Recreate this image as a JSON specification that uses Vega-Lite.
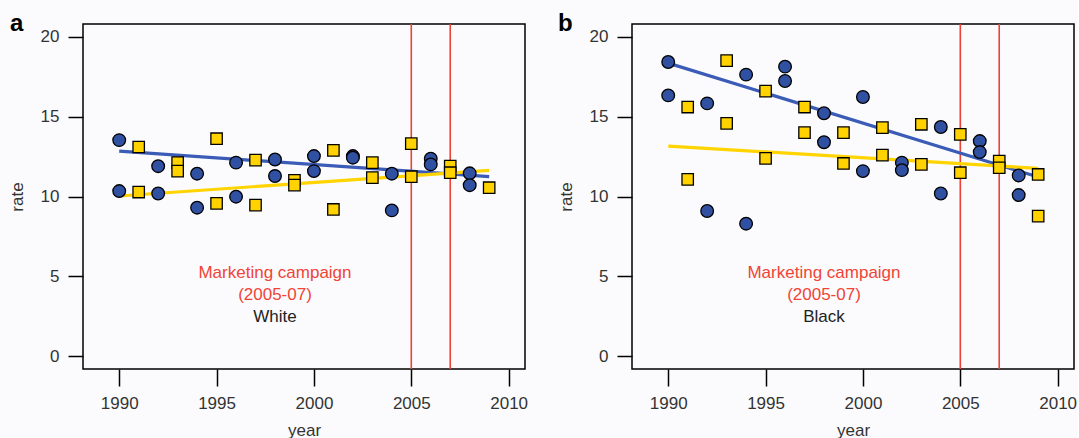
{
  "$schema": "https://vega.github.io/schema/vega-lite/v6.json",
  "background": "#fbfbfd",
  "padding": {"left": 7, "top": 11, "right": 0, "bottom": 0},
  "spacing": 107,
  "bounds": "flush",
  "config": {
    "font": "Liberation Sans",
    "view": {"stroke": "black", "strokeWidth": 1.5},
    "axis": {
      "grid": false,
      "domain": false,
      "tickColor": "black",
      "tickWidth": 1.5,
      "labelFontSize": 17,
      "labelColor": "#333333",
      "titleFontSize": 17,
      "titleFontWeight": "normal",
      "titleColor": "#333333",
      "labelFlush": false,
      "labelOverlap": false
    },
    "axisX": {"tickSize": 17, "labelPadding": 9, "titlePadding": 11},
    "axisY": {"tickSize": 15, "labelPadding": 9, "titlePadding": 14},
    "title": {"fontSize": 24, "fontWeight": "bold", "color": "black", "anchor": "start", "frame": "group", "offset": 0, "baseline": "alphabetic"}
  },
  "datasets": {
    "pts": [
      {"panel": "a", "group": "circle", "year": 1990, "rate": 13.53},
      {"panel": "a", "group": "circle", "year": 1990, "rate": 10.34},
      {"panel": "a", "group": "circle", "year": 1992, "rate": 11.9},
      {"panel": "a", "group": "circle", "year": 1992, "rate": 10.19},
      {"panel": "a", "group": "circle", "year": 1994, "rate": 11.43},
      {"panel": "a", "group": "circle", "year": 1994, "rate": 9.3},
      {"panel": "a", "group": "circle", "year": 1996, "rate": 12.12},
      {"panel": "a", "group": "circle", "year": 1996, "rate": 9.99},
      {"panel": "a", "group": "circle", "year": 1998, "rate": 12.32},
      {"panel": "a", "group": "circle", "year": 1998, "rate": 11.28},
      {"panel": "a", "group": "circle", "year": 2000, "rate": 12.53},
      {"panel": "a", "group": "circle", "year": 2000, "rate": 11.59},
      {"panel": "a", "group": "circle", "year": 2002, "rate": 12.53},
      {"panel": "a", "group": "circle", "year": 2002, "rate": 12.43},
      {"panel": "a", "group": "circle", "year": 2004, "rate": 11.43},
      {"panel": "a", "group": "circle", "year": 2004, "rate": 9.13},
      {"panel": "a", "group": "circle", "year": 2006, "rate": 12.37},
      {"panel": "a", "group": "circle", "year": 2006, "rate": 12.01},
      {"panel": "a", "group": "circle", "year": 2008, "rate": 11.45},
      {"panel": "a", "group": "circle", "year": 2008, "rate": 10.71},
      {"panel": "a", "group": "square", "year": 1991, "rate": 13.1},
      {"panel": "a", "group": "square", "year": 1991, "rate": 10.28},
      {"panel": "a", "group": "square", "year": 1993, "rate": 12.12},
      {"panel": "a", "group": "square", "year": 1993, "rate": 11.59},
      {"panel": "a", "group": "square", "year": 1995, "rate": 13.62},
      {"panel": "a", "group": "square", "year": 1995, "rate": 9.57},
      {"panel": "a", "group": "square", "year": 1997, "rate": 12.28},
      {"panel": "a", "group": "square", "year": 1997, "rate": 9.46},
      {"panel": "a", "group": "square", "year": 1999, "rate": 11.01},
      {"panel": "a", "group": "square", "year": 1999, "rate": 10.71},
      {"panel": "a", "group": "square", "year": 2001, "rate": 12.89},
      {"panel": "a", "group": "square", "year": 2001, "rate": 9.19},
      {"panel": "a", "group": "square", "year": 2003, "rate": 12.12},
      {"panel": "a", "group": "square", "year": 2003, "rate": 11.18},
      {"panel": "a", "group": "square", "year": 2005, "rate": 13.31},
      {"panel": "a", "group": "square", "year": 2005, "rate": 11.24},
      {"panel": "a", "group": "square", "year": 2007, "rate": 11.9},
      {"panel": "a", "group": "square", "year": 2007, "rate": 11.49},
      {"panel": "a", "group": "square", "year": 2009, "rate": 10.55},
      {"panel": "b", "group": "circle", "year": 1990, "rate": 18.42},
      {"panel": "b", "group": "circle", "year": 1990, "rate": 16.33},
      {"panel": "b", "group": "circle", "year": 1992, "rate": 15.83},
      {"panel": "b", "group": "circle", "year": 1992, "rate": 9.09},
      {"panel": "b", "group": "circle", "year": 1994, "rate": 17.63},
      {"panel": "b", "group": "circle", "year": 1994, "rate": 8.3},
      {"panel": "b", "group": "circle", "year": 1996, "rate": 18.13},
      {"panel": "b", "group": "circle", "year": 1996, "rate": 17.23},
      {"panel": "b", "group": "circle", "year": 1998, "rate": 15.21},
      {"panel": "b", "group": "circle", "year": 1998, "rate": 13.4},
      {"panel": "b", "group": "circle", "year": 2000, "rate": 16.23},
      {"panel": "b", "group": "circle", "year": 2000, "rate": 11.59},
      {"panel": "b", "group": "circle", "year": 2002, "rate": 12.12},
      {"panel": "b", "group": "circle", "year": 2002, "rate": 11.65},
      {"panel": "b", "group": "circle", "year": 2004, "rate": 14.35},
      {"panel": "b", "group": "circle", "year": 2004, "rate": 10.19},
      {"panel": "b", "group": "circle", "year": 2006, "rate": 13.47},
      {"panel": "b", "group": "circle", "year": 2006, "rate": 12.78},
      {"panel": "b", "group": "circle", "year": 2008, "rate": 11.32},
      {"panel": "b", "group": "circle", "year": 2008, "rate": 10.09},
      {"panel": "b", "group": "square", "year": 1991, "rate": 15.6},
      {"panel": "b", "group": "square", "year": 1991, "rate": 11.07},
      {"panel": "b", "group": "square", "year": 1993, "rate": 18.51},
      {"panel": "b", "group": "square", "year": 1993, "rate": 14.58},
      {"panel": "b", "group": "square", "year": 1995, "rate": 16.6},
      {"panel": "b", "group": "square", "year": 1995, "rate": 12.39},
      {"panel": "b", "group": "square", "year": 1997, "rate": 15.6},
      {"panel": "b", "group": "square", "year": 1997, "rate": 14.0},
      {"panel": "b", "group": "square", "year": 1999, "rate": 14.0},
      {"panel": "b", "group": "square", "year": 1999, "rate": 12.07},
      {"panel": "b", "group": "square", "year": 2001, "rate": 14.31},
      {"panel": "b", "group": "square", "year": 2001, "rate": 12.59},
      {"panel": "b", "group": "square", "year": 2003, "rate": 14.52},
      {"panel": "b", "group": "square", "year": 2003, "rate": 12.01},
      {"panel": "b", "group": "square", "year": 2005, "rate": 13.89},
      {"panel": "b", "group": "square", "year": 2005, "rate": 11.49},
      {"panel": "b", "group": "square", "year": 2007, "rate": 12.22},
      {"panel": "b", "group": "square", "year": 2007, "rate": 11.8},
      {"panel": "b", "group": "square", "year": 2009, "rate": 11.38},
      {"panel": "b", "group": "square", "year": 2009, "rate": 8.77}
    ],
    "fits": [
      {"panel": "a", "group": "circle", "year": 1990, "rate": 12.84},
      {"panel": "a", "group": "circle", "year": 2009, "rate": 11.24},
      {"panel": "a", "group": "square", "year": 1990, "rate": 10.03},
      {"panel": "a", "group": "square", "year": 2009, "rate": 11.64},
      {"panel": "b", "group": "circle", "year": 1990, "rate": 18.35},
      {"panel": "b", "group": "circle", "year": 2009, "rate": 11.22},
      {"panel": "b", "group": "square", "year": 1990, "rate": 13.16},
      {"panel": "b", "group": "square", "year": 2009, "rate": 11.76}
    ],
    "campaign": [
      {"panel": "a", "year": 2005},
      {"panel": "a", "year": 2007},
      {"panel": "b", "year": 2005},
      {"panel": "b", "year": 2007}
    ],
    "notes": [
      {"panel": "a", "kind": "campaign", "year": 1998, "rate": 4.87, "label": "Marketing campaign"},
      {"panel": "a", "kind": "campaign", "year": 1998, "rate": 3.52, "label": "(2005-07)"},
      {"panel": "a", "kind": "race", "year": 1998, "rate": 2.17, "label": "White"},
      {"panel": "b", "kind": "campaign", "year": 1998, "rate": 4.87, "label": "Marketing campaign"},
      {"panel": "b", "kind": "campaign", "year": 1998, "rate": 3.52, "label": "(2005-07)"},
      {"panel": "b", "kind": "race", "year": 1998, "rate": 2.17, "label": "Black"}
    ]
  },
  "hconcat": [
    {
      "width": 442,
      "height": 345,
      "title": {"text": "a", "dx": -73, "dy": 17},
      "layer": [
        {
          "data": {"name": "campaign"},
          "transform": [{"filter": "datum.panel == 'a'"}],
          "mark": {"type": "rule", "color": "#EE4035", "strokeWidth": 1.6},
          "encoding": {
            "x": {"field": "year", "type": "quantitative", "scale": {"domain": [1988.14, 2010.84], "nice": false, "zero": false},
              "axis": {"values": [1990, 1995, 2000, 2005, 2010], "format": "d", "title": "year"}}
          }
        },
        {
          "data": {"name": "fits"},
          "transform": [{"filter": "datum.panel == 'a'"}],
          "mark": {"type": "line", "strokeWidth": 3.2},
          "encoding": {
            "x": {"field": "year", "type": "quantitative"},
            "y": {"field": "rate", "type": "quantitative"},
            "stroke": {"field": "group", "type": "nominal", "scale": {"domain": ["circle", "square"], "range": ["#3A5BB6", "#FFD400"]}, "legend": null}
          }
        },
        {
          "data": {"name": "pts"},
          "transform": [{"filter": "datum.panel == 'a'"}],
          "mark": {"type": "point", "filled": true, "stroke": "black", "strokeWidth": 1.3, "opacity": 1},
          "encoding": {
            "x": {"field": "year", "type": "quantitative"},
            "y": {"field": "rate", "type": "quantitative", "scale": {"domain": [-0.8, 20.8], "nice": false, "zero": false},
              "axis": {"values": [0, 5, 10, 15, 20], "title": "rate"}},
            "shape": {"field": "group", "type": "nominal", "scale": {"domain": ["circle", "square"], "range": ["circle", "square"]}, "legend": null},
            "size": {"field": "group", "type": "nominal", "scale": {"domain": ["circle", "square"], "range": [160, 130]}, "legend": null},
            "fill": {"field": "group", "type": "nominal", "scale": {"domain": ["circle", "square"], "range": ["#3050A2", "#FFD200"]}, "legend": null}
          }
        },
        {
          "data": {"name": "notes"},
          "transform": [{"filter": "datum.panel == 'a'"}],
          "mark": {"type": "text", "fontSize": 17, "align": "center", "baseline": "alphabetic"},
          "encoding": {
            "x": {"field": "year", "type": "quantitative"},
            "y": {"field": "rate", "type": "quantitative"},
            "text": {"field": "label"},
            "color": {"field": "kind", "type": "nominal", "scale": {"domain": ["campaign", "race"], "range": ["#F04436", "#222222"]}, "legend": null}
          }
        }
      ]
    },
    {
      "width": 442,
      "height": 345,
      "title": {"text": "b", "dx": -74, "dy": 17},
      "layer": [
        {
          "data": {"name": "campaign"},
          "transform": [{"filter": "datum.panel == 'b'"}],
          "mark": {"type": "rule", "color": "#EE4035", "strokeWidth": 1.6},
          "encoding": {
            "x": {"field": "year", "type": "quantitative", "scale": {"domain": [1988.14, 2010.84], "nice": false, "zero": false},
              "axis": {"values": [1990, 1995, 2000, 2005, 2010], "format": "d", "title": "year"}}
          }
        },
        {
          "data": {"name": "fits"},
          "transform": [{"filter": "datum.panel == 'b'"}],
          "mark": {"type": "line", "strokeWidth": 3.2},
          "encoding": {
            "x": {"field": "year", "type": "quantitative"},
            "y": {"field": "rate", "type": "quantitative"},
            "stroke": {"field": "group", "type": "nominal", "scale": {"domain": ["circle", "square"], "range": ["#3A5BB6", "#FFD400"]}, "legend": null}
          }
        },
        {
          "data": {"name": "pts"},
          "transform": [{"filter": "datum.panel == 'b'"}],
          "mark": {"type": "point", "filled": true, "stroke": "black", "strokeWidth": 1.3, "opacity": 1},
          "encoding": {
            "x": {"field": "year", "type": "quantitative"},
            "y": {"field": "rate", "type": "quantitative", "scale": {"domain": [-0.8, 20.8], "nice": false, "zero": false},
              "axis": {"values": [0, 5, 10, 15, 20], "title": "rate"}},
            "shape": {"field": "group", "type": "nominal", "scale": {"domain": ["circle", "square"], "range": ["circle", "square"]}, "legend": null},
            "size": {"field": "group", "type": "nominal", "scale": {"domain": ["circle", "square"], "range": [160, 130]}, "legend": null},
            "fill": {"field": "group", "type": "nominal", "scale": {"domain": ["circle", "square"], "range": ["#3050A2", "#FFD200"]}, "legend": null}
          }
        },
        {
          "data": {"name": "notes"},
          "transform": [{"filter": "datum.panel == 'b'"}],
          "mark": {"type": "text", "fontSize": 17, "align": "center", "baseline": "alphabetic"},
          "encoding": {
            "x": {"field": "year", "type": "quantitative"},
            "y": {"field": "rate", "type": "quantitative"},
            "text": {"field": "label"},
            "color": {"field": "kind", "type": "nominal", "scale": {"domain": ["campaign", "race"], "range": ["#F04436", "#222222"]}, "legend": null}
          }
        }
      ]
    }
  ]
}
